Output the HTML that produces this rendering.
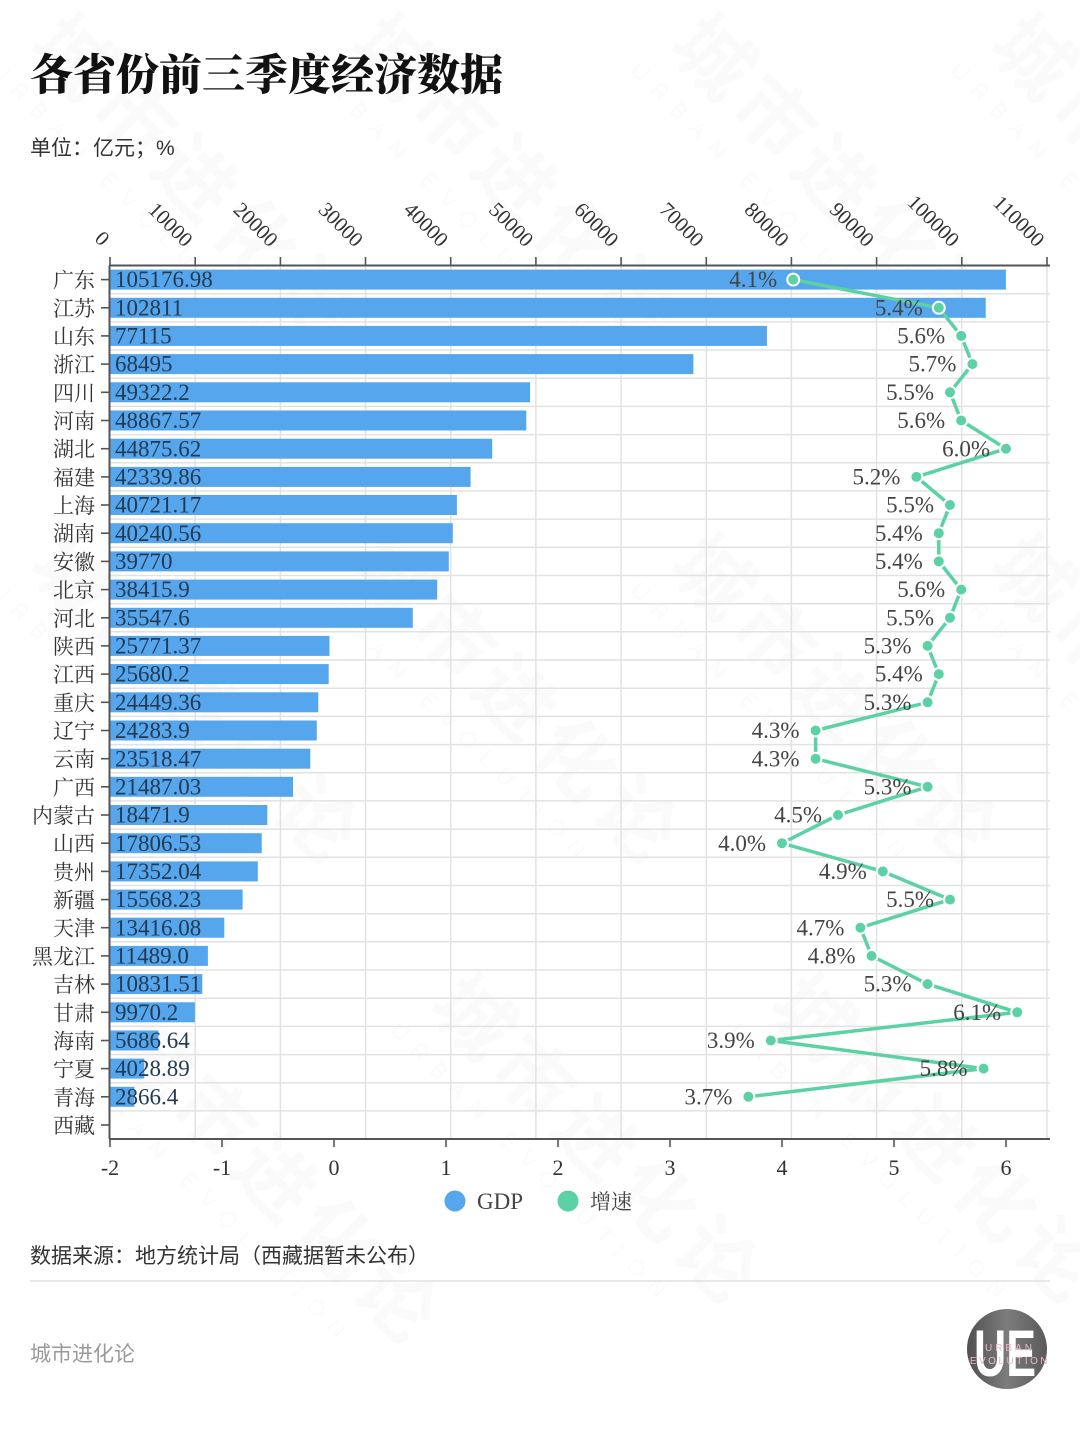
<!DOCTYPE html>
<html>
<head>
<meta charset="utf-8">
<style>
html,body{margin:0;padding:0;background:#fff;}
svg{display:block;}
</style>
</head>
<body>
<svg width="1080" height="1440" viewBox="0 0 1080 1440" xmlns="http://www.w3.org/2000/svg">
<defs>
<linearGradient id="lg" x1="0" y1="0" x2="1" y2="0">
<stop offset="0" stop-color="#505050"/>
<stop offset="0.5" stop-color="#7c7c7c"/>
<stop offset="1" stop-color="#5a5a5a"/>
</linearGradient>
</defs>
<rect width="1080" height="1440" fill="#fff"/>

<!-- watermarks -->
<g font-family="'Liberation Sans','Noto Sans CJK SC',sans-serif" fill="#000" fill-opacity="0.02">
<g transform="translate(26,49) rotate(45)"><text font-size="78" font-weight="bold" letter-spacing="8">城市进化论</text><text x="-10" y="42" font-size="22" letter-spacing="12">URBAN EVOLUTION</text></g>
<g transform="translate(346,49) rotate(45)"><text font-size="78" font-weight="bold" letter-spacing="8">城市进化论</text><text x="-10" y="42" font-size="22" letter-spacing="12">URBAN EVOLUTION</text></g>
<g transform="translate(666,49) rotate(45)"><text font-size="78" font-weight="bold" letter-spacing="8">城市进化论</text><text x="-10" y="42" font-size="22" letter-spacing="12">URBAN EVOLUTION</text></g>
<g transform="translate(986,49) rotate(45)"><text font-size="78" font-weight="bold" letter-spacing="8">城市进化论</text><text x="-10" y="42" font-size="22" letter-spacing="12">URBAN EVOLUTION</text></g>
<g transform="translate(26,569) rotate(45)"><text font-size="78" font-weight="bold" letter-spacing="8">城市进化论</text><text x="-10" y="42" font-size="22" letter-spacing="12">URBAN EVOLUTION</text></g>
<g transform="translate(346,569) rotate(45)"><text font-size="78" font-weight="bold" letter-spacing="8">城市进化论</text><text x="-10" y="42" font-size="22" letter-spacing="12">URBAN EVOLUTION</text></g>
<g transform="translate(666,569) rotate(45)"><text font-size="78" font-weight="bold" letter-spacing="8">城市进化论</text><text x="-10" y="42" font-size="22" letter-spacing="12">URBAN EVOLUTION</text></g>
<g transform="translate(986,569) rotate(45)"><text font-size="78" font-weight="bold" letter-spacing="8">城市进化论</text><text x="-10" y="42" font-size="22" letter-spacing="12">URBAN EVOLUTION</text></g>
<g transform="translate(106,1049) rotate(45)"><text font-size="78" font-weight="bold" letter-spacing="8">城市进化论</text><text x="-10" y="42" font-size="22" letter-spacing="12">URBAN EVOLUTION</text></g>
<g transform="translate(426,1009) rotate(45)"><text font-size="78" font-weight="bold" letter-spacing="8">城市进化论</text><text x="-10" y="42" font-size="22" letter-spacing="12">URBAN EVOLUTION</text></g>
<g transform="translate(766,1009) rotate(45)"><text font-size="78" font-weight="bold" letter-spacing="8">城市进化论</text><text x="-10" y="42" font-size="22" letter-spacing="12">URBAN EVOLUTION</text></g>
</g>

<!-- title -->
<text x="30" y="90" font-size="43" font-weight="900" font-family="'Liberation Serif','Noto Serif CJK SC',serif" fill="#111">各省份前三季度经济数据</text>
<text x="30" y="155" font-size="21" font-family="'Liberation Sans','Noto Sans CJK SC',sans-serif" fill="#333">单位：亿元；%</text>

<!-- gridlines -->
<g stroke="#e2e2e2" stroke-width="1.5">
<line x1="195.2" y1="265.5" x2="195.2" y2="1139"/>
<line x1="280.4" y1="265.5" x2="280.4" y2="1139"/>
<line x1="365.5" y1="265.5" x2="365.5" y2="1139"/>
<line x1="450.7" y1="265.5" x2="450.7" y2="1139"/>
<line x1="535.9" y1="265.5" x2="535.9" y2="1139"/>
<line x1="621.1" y1="265.5" x2="621.1" y2="1139"/>
<line x1="706.3" y1="265.5" x2="706.3" y2="1139"/>
<line x1="791.4" y1="265.5" x2="791.4" y2="1139"/>
<line x1="876.6" y1="265.5" x2="876.6" y2="1139"/>
<line x1="961.8" y1="265.5" x2="961.8" y2="1139"/>
<line x1="1047" y1="265.5" x2="1047" y2="1139"/>
<line x1="110" y1="293.7" x2="1050" y2="293.7"/>
<line x1="110" y1="321.9" x2="1050" y2="321.9"/>
<line x1="110" y1="350.0" x2="1050" y2="350.0"/>
<line x1="110" y1="378.2" x2="1050" y2="378.2"/>
<line x1="110" y1="406.4" x2="1050" y2="406.4"/>
<line x1="110" y1="434.6" x2="1050" y2="434.6"/>
<line x1="110" y1="462.8" x2="1050" y2="462.8"/>
<line x1="110" y1="490.9" x2="1050" y2="490.9"/>
<line x1="110" y1="519.1" x2="1050" y2="519.1"/>
<line x1="110" y1="547.3" x2="1050" y2="547.3"/>
<line x1="110" y1="575.5" x2="1050" y2="575.5"/>
<line x1="110" y1="603.7" x2="1050" y2="603.7"/>
<line x1="110" y1="631.8" x2="1050" y2="631.8"/>
<line x1="110" y1="660.0" x2="1050" y2="660.0"/>
<line x1="110" y1="688.2" x2="1050" y2="688.2"/>
<line x1="110" y1="716.4" x2="1050" y2="716.4"/>
<line x1="110" y1="744.6" x2="1050" y2="744.6"/>
<line x1="110" y1="772.8" x2="1050" y2="772.8"/>
<line x1="110" y1="800.9" x2="1050" y2="800.9"/>
<line x1="110" y1="829.1" x2="1050" y2="829.1"/>
<line x1="110" y1="857.3" x2="1050" y2="857.3"/>
<line x1="110" y1="885.5" x2="1050" y2="885.5"/>
<line x1="110" y1="913.7" x2="1050" y2="913.7"/>
<line x1="110" y1="941.8" x2="1050" y2="941.8"/>
<line x1="110" y1="970.0" x2="1050" y2="970.0"/>
<line x1="110" y1="998.2" x2="1050" y2="998.2"/>
<line x1="110" y1="1026.4" x2="1050" y2="1026.4"/>
<line x1="110" y1="1054.6" x2="1050" y2="1054.6"/>
<line x1="110" y1="1082.7" x2="1050" y2="1082.7"/>
<line x1="110" y1="1110.9" x2="1050" y2="1110.9"/>
</g>

<!-- bars -->
<g fill="#55a6ec">
<rect x="110" y="269.6" width="895.9" height="20"/>
<rect x="110" y="297.8" width="875.7" height="20"/>
<rect x="110" y="325.9" width="656.9" height="20"/>
<rect x="110" y="354.1" width="583.4" height="20"/>
<rect x="110" y="382.3" width="420.1" height="20"/>
<rect x="110" y="410.5" width="416.3" height="20"/>
<rect x="110" y="438.7" width="382.2" height="20"/>
<rect x="110" y="466.9" width="360.6" height="20"/>
<rect x="110" y="495.0" width="346.9" height="20"/>
<rect x="110" y="523.2" width="342.8" height="20"/>
<rect x="110" y="551.4" width="338.8" height="20"/>
<rect x="110" y="579.6" width="327.2" height="20"/>
<rect x="110" y="607.8" width="302.8" height="20"/>
<rect x="110" y="635.9" width="219.5" height="20"/>
<rect x="110" y="664.1" width="218.7" height="20"/>
<rect x="110" y="692.3" width="208.3" height="20"/>
<rect x="110" y="720.5" width="206.8" height="20"/>
<rect x="110" y="748.7" width="200.3" height="20"/>
<rect x="110" y="776.8" width="183.0" height="20"/>
<rect x="110" y="805.0" width="157.3" height="20"/>
<rect x="110" y="833.2" width="151.7" height="20"/>
<rect x="110" y="861.4" width="147.8" height="20"/>
<rect x="110" y="889.6" width="132.6" height="20"/>
<rect x="110" y="917.7" width="114.3" height="20"/>
<rect x="110" y="945.9" width="97.9" height="20"/>
<rect x="110" y="974.1" width="92.3" height="20"/>
<rect x="110" y="1002.3" width="84.9" height="20"/>
<rect x="110" y="1030.5" width="48.4" height="20"/>
<rect x="110" y="1058.6" width="34.3" height="20"/>
<rect x="110" y="1086.8" width="24.4" height="20"/>
</g>

<!-- bar value labels -->
<g font-family="'Liberation Serif','Noto Serif CJK SC',serif" font-size="23" fill="#243a52">
<text x="115" y="287.2">105176.98</text>
<text x="115" y="315.4">102811</text>
<text x="115" y="343.5">77115</text>
<text x="115" y="371.7">68495</text>
<text x="115" y="399.9">49322.2</text>
<text x="115" y="428.1">48867.57</text>
<text x="115" y="456.3">44875.62</text>
<text x="115" y="484.5">42339.86</text>
<text x="115" y="512.6">40721.17</text>
<text x="115" y="540.8">40240.56</text>
<text x="115" y="569.0">39770</text>
<text x="115" y="597.2">38415.9</text>
<text x="115" y="625.4">35547.6</text>
<text x="115" y="653.5">25771.37</text>
<text x="115" y="681.7">25680.2</text>
<text x="115" y="709.9">24449.36</text>
<text x="115" y="738.1">24283.9</text>
<text x="115" y="766.3">23518.47</text>
<text x="115" y="794.4">21487.03</text>
<text x="115" y="822.6">18471.9</text>
<text x="115" y="850.8">17806.53</text>
<text x="115" y="879.0">17352.04</text>
<text x="115" y="907.2">15568.23</text>
<text x="115" y="935.3">13416.08</text>
<text x="115" y="963.5">11489.0</text>
<text x="115" y="991.7">10831.51</text>
<text x="115" y="1019.9">9970.2</text>
<text x="115" y="1048.1">5686.64</text>
<text x="115" y="1076.2">4028.89</text>
<text x="115" y="1104.4">2866.4</text>
</g>

<!-- axes -->
<g stroke="#555" stroke-width="2" fill="none">
<line x1="109" y1="265.5" x2="1050" y2="265.5"/>
<line x1="109" y1="1139" x2="1050" y2="1139"/>
<line x1="109.5" y1="265.5" x2="109.5" y2="1139"/>
</g>
<g stroke="#555" stroke-width="1.6">
<line x1="110" y1="257" x2="110" y2="265.5"/>
<line x1="195.2" y1="257" x2="195.2" y2="265.5"/>
<line x1="280.4" y1="257" x2="280.4" y2="265.5"/>
<line x1="365.5" y1="257" x2="365.5" y2="265.5"/>
<line x1="450.7" y1="257" x2="450.7" y2="265.5"/>
<line x1="535.9" y1="257" x2="535.9" y2="265.5"/>
<line x1="621.1" y1="257" x2="621.1" y2="265.5"/>
<line x1="706.3" y1="257" x2="706.3" y2="265.5"/>
<line x1="791.4" y1="257" x2="791.4" y2="265.5"/>
<line x1="876.6" y1="257" x2="876.6" y2="265.5"/>
<line x1="961.8" y1="257" x2="961.8" y2="265.5"/>
<line x1="1047" y1="257" x2="1047" y2="265.5"/>
<line x1="110" y1="1139" x2="110" y2="1147"/>
<line x1="222" y1="1139" x2="222" y2="1147"/>
<line x1="334" y1="1139" x2="334" y2="1147"/>
<line x1="446" y1="1139" x2="446" y2="1147"/>
<line x1="558" y1="1139" x2="558" y2="1147"/>
<line x1="670" y1="1139" x2="670" y2="1147"/>
<line x1="782" y1="1139" x2="782" y2="1147"/>
<line x1="894" y1="1139" x2="894" y2="1147"/>
<line x1="1006" y1="1139" x2="1006" y2="1147"/>
<line x1="101" y1="279.6" x2="109" y2="279.6"/>
<line x1="101" y1="307.8" x2="109" y2="307.8"/>
<line x1="101" y1="335.9" x2="109" y2="335.9"/>
<line x1="101" y1="364.1" x2="109" y2="364.1"/>
<line x1="101" y1="392.3" x2="109" y2="392.3"/>
<line x1="101" y1="420.5" x2="109" y2="420.5"/>
<line x1="101" y1="448.7" x2="109" y2="448.7"/>
<line x1="101" y1="476.9" x2="109" y2="476.9"/>
<line x1="101" y1="505.0" x2="109" y2="505.0"/>
<line x1="101" y1="533.2" x2="109" y2="533.2"/>
<line x1="101" y1="561.4" x2="109" y2="561.4"/>
<line x1="101" y1="589.6" x2="109" y2="589.6"/>
<line x1="101" y1="617.8" x2="109" y2="617.8"/>
<line x1="101" y1="645.9" x2="109" y2="645.9"/>
<line x1="101" y1="674.1" x2="109" y2="674.1"/>
<line x1="101" y1="702.3" x2="109" y2="702.3"/>
<line x1="101" y1="730.5" x2="109" y2="730.5"/>
<line x1="101" y1="758.7" x2="109" y2="758.7"/>
<line x1="101" y1="786.8" x2="109" y2="786.8"/>
<line x1="101" y1="815.0" x2="109" y2="815.0"/>
<line x1="101" y1="843.2" x2="109" y2="843.2"/>
<line x1="101" y1="871.4" x2="109" y2="871.4"/>
<line x1="101" y1="899.6" x2="109" y2="899.6"/>
<line x1="101" y1="927.7" x2="109" y2="927.7"/>
<line x1="101" y1="955.9" x2="109" y2="955.9"/>
<line x1="101" y1="984.1" x2="109" y2="984.1"/>
<line x1="101" y1="1012.3" x2="109" y2="1012.3"/>
<line x1="101" y1="1040.5" x2="109" y2="1040.5"/>
<line x1="101" y1="1068.6" x2="109" y2="1068.6"/>
<line x1="101" y1="1096.8" x2="109" y2="1096.8"/>
<line x1="101" y1="1125.0" x2="109" y2="1125.0"/>
</g>

<!-- top axis labels -->
<g font-family="'Liberation Serif','Noto Serif CJK SC',serif" font-size="21" fill="#333" text-anchor="end">
<text transform="translate(101,247) rotate(45)">0</text>
<text transform="translate(184.2,248) rotate(45)">10000</text>
<text transform="translate(269.4,248) rotate(45)">20000</text>
<text transform="translate(354.5,248) rotate(45)">30000</text>
<text transform="translate(439.7,248) rotate(45)">40000</text>
<text transform="translate(524.9,248) rotate(45)">50000</text>
<text transform="translate(610.1,248) rotate(45)">60000</text>
<text transform="translate(695.3,248) rotate(45)">70000</text>
<text transform="translate(780.4,248) rotate(45)">80000</text>
<text transform="translate(865.6,248) rotate(45)">90000</text>
<text transform="translate(950.8,248) rotate(45)">100000</text>
<text transform="translate(1036,248) rotate(45)">110000</text>
</g>

<!-- bottom axis labels -->
<g font-family="'Liberation Serif','Noto Serif CJK SC',serif" font-size="22" fill="#333" text-anchor="middle">
<text x="110" y="1175">-2</text>
<text x="222" y="1175">-1</text>
<text x="334" y="1175">0</text>
<text x="446" y="1175">1</text>
<text x="558" y="1175">2</text>
<text x="670" y="1175">3</text>
<text x="782" y="1175">4</text>
<text x="894" y="1175">5</text>
<text x="1006" y="1175">6</text>
</g>

<!-- category labels -->
<g font-family="'Liberation Serif','Noto Serif CJK SC',serif" font-size="21" fill="#333" text-anchor="end">
<text x="95" y="287.6">广东</text>
<text x="95" y="315.8">江苏</text>
<text x="95" y="343.9">山东</text>
<text x="95" y="372.1">浙江</text>
<text x="95" y="400.3">四川</text>
<text x="95" y="428.5">河南</text>
<text x="95" y="456.7">湖北</text>
<text x="95" y="484.9">福建</text>
<text x="95" y="513.0">上海</text>
<text x="95" y="541.2">湖南</text>
<text x="95" y="569.4">安徽</text>
<text x="95" y="597.6">北京</text>
<text x="95" y="625.8">河北</text>
<text x="95" y="653.9">陕西</text>
<text x="95" y="682.1">江西</text>
<text x="95" y="710.3">重庆</text>
<text x="95" y="738.5">辽宁</text>
<text x="95" y="766.7">云南</text>
<text x="95" y="794.8">广西</text>
<text x="95" y="823.0">内蒙古</text>
<text x="95" y="851.2">山西</text>
<text x="95" y="879.4">贵州</text>
<text x="95" y="907.6">新疆</text>
<text x="95" y="935.7">天津</text>
<text x="95" y="963.9">黑龙江</text>
<text x="95" y="992.1">吉林</text>
<text x="95" y="1020.3">甘肃</text>
<text x="95" y="1048.5">海南</text>
<text x="95" y="1076.6">宁夏</text>
<text x="95" y="1104.8">青海</text>
<text x="95" y="1133.0">西藏</text>
</g>

<!-- growth line -->
<polyline fill="none" stroke="#5cd2a4" stroke-width="3.5" stroke-linejoin="round"
points="793.2,279.6 938.8,307.8 961.2,335.9 972.4,364.1 950,392.3 961.2,420.5 1006,448.7 916.4,476.9 950,505.0 938.8,533.2 938.8,561.4 961.2,589.6 950,617.8 927.6,645.9 938.8,674.1 927.6,702.3 815.6,730.5 815.6,758.7 927.6,786.8 838,815.0 782,843.2 882.8,871.4 950,899.6 860.4,927.7 871.6,955.9 927.6,984.1 1017.2,1012.3 770.8,1040.5 983.6,1068.6 748.4,1096.8"/>
<g fill="#5cd2a4" stroke="#fff" stroke-width="2">
<circle cx="793.2" cy="279.6" r="6"/>
<circle cx="938.8" cy="307.8" r="6"/>
<circle cx="961.2" cy="335.9" r="6"/>
<circle cx="972.4" cy="364.1" r="6"/>
<circle cx="950" cy="392.3" r="6"/>
<circle cx="961.2" cy="420.5" r="6"/>
<circle cx="1006" cy="448.7" r="6"/>
<circle cx="916.4" cy="476.9" r="6"/>
<circle cx="950" cy="505.0" r="6"/>
<circle cx="938.8" cy="533.2" r="6"/>
<circle cx="938.8" cy="561.4" r="6"/>
<circle cx="961.2" cy="589.6" r="6"/>
<circle cx="950" cy="617.8" r="6"/>
<circle cx="927.6" cy="645.9" r="6"/>
<circle cx="938.8" cy="674.1" r="6"/>
<circle cx="927.6" cy="702.3" r="6"/>
<circle cx="815.6" cy="730.5" r="6"/>
<circle cx="815.6" cy="758.7" r="6"/>
<circle cx="927.6" cy="786.8" r="6"/>
<circle cx="838" cy="815.0" r="6"/>
<circle cx="782" cy="843.2" r="6"/>
<circle cx="882.8" cy="871.4" r="6"/>
<circle cx="950" cy="899.6" r="6"/>
<circle cx="860.4" cy="927.7" r="6"/>
<circle cx="871.6" cy="955.9" r="6"/>
<circle cx="927.6" cy="984.1" r="6"/>
<circle cx="1017.2" cy="1012.3" r="6"/>
<circle cx="770.8" cy="1040.5" r="6"/>
<circle cx="983.6" cy="1068.6" r="6"/>
<circle cx="748.4" cy="1096.8" r="6"/>
</g>

<!-- growth labels -->
<g font-family="'Liberation Serif','Noto Serif CJK SC',serif" font-size="23" fill="#444" text-anchor="end">
<text x="777.2" y="287.2">4.1%</text>
<text x="922.8" y="315.4">5.4%</text>
<text x="945.2" y="343.5">5.6%</text>
<text x="956.4" y="371.7">5.7%</text>
<text x="934" y="399.9">5.5%</text>
<text x="945.2" y="428.1">5.6%</text>
<text x="990" y="456.3">6.0%</text>
<text x="900.4" y="484.5">5.2%</text>
<text x="934" y="512.6">5.5%</text>
<text x="922.8" y="540.8">5.4%</text>
<text x="922.8" y="569.0">5.4%</text>
<text x="945.2" y="597.2">5.6%</text>
<text x="934" y="625.4">5.5%</text>
<text x="911.6" y="653.5">5.3%</text>
<text x="922.8" y="681.7">5.4%</text>
<text x="911.6" y="709.9">5.3%</text>
<text x="799.6" y="738.1">4.3%</text>
<text x="799.6" y="766.3">4.3%</text>
<text x="911.6" y="794.4">5.3%</text>
<text x="822" y="822.6">4.5%</text>
<text x="766" y="850.8">4.0%</text>
<text x="866.8" y="879.0">4.9%</text>
<text x="934" y="907.2">5.5%</text>
<text x="844.4" y="935.3">4.7%</text>
<text x="855.6" y="963.5">4.8%</text>
<text x="911.6" y="991.7">5.3%</text>
<text x="1001.2" y="1019.9">6.1%</text>
<text x="754.8" y="1048.1">3.9%</text>
<text x="967.6" y="1076.2">5.8%</text>
<text x="732.4" y="1104.4">3.7%</text>
</g>

<!-- legend -->
<circle cx="455" cy="1201" r="10.5" fill="#55a6ec"/>
<text x="477" y="1209" font-family="'Liberation Serif','Noto Serif CJK SC',serif" font-size="23" fill="#444">GDP</text>
<circle cx="568" cy="1201" r="10.5" fill="#5cd2a4"/>
<text x="590" y="1209" font-family="'Liberation Serif','Noto Serif CJK SC',serif" font-size="21" fill="#444">增速</text>

<!-- footer -->
<text x="30" y="1263" font-size="21" font-family="'Liberation Sans','Noto Sans CJK SC',sans-serif" fill="#333">数据来源：地方统计局（西藏据暂未公布）</text>
<line x1="30" y1="1281" x2="1050" y2="1281" stroke="#e0e0e0" stroke-width="1.5"/>
<text x="30" y="1361" font-size="21" font-family="'Liberation Sans','Noto Sans CJK SC',sans-serif" fill="#9a9a9a">城市进化论</text>

<!-- logo -->
<circle cx="1007" cy="1349" r="40" fill="url(#lg)"/>
<text x="1005" y="1376" text-anchor="middle" font-family="'Liberation Sans',sans-serif" font-weight="bold" font-size="66" fill="#fff" textLength="62" lengthAdjust="spacingAndGlyphs">UE</text>
<text x="1010" y="1351" text-anchor="middle" font-family="'Liberation Sans',sans-serif" font-size="10" letter-spacing="3" fill="#eab8c4">URBAN</text>
<text x="1010" y="1364" text-anchor="middle" font-family="'Liberation Sans',sans-serif" font-size="10" letter-spacing="2.5" fill="#eab8c4">EVOLUTION</text>
</svg>
</body>
</html>
